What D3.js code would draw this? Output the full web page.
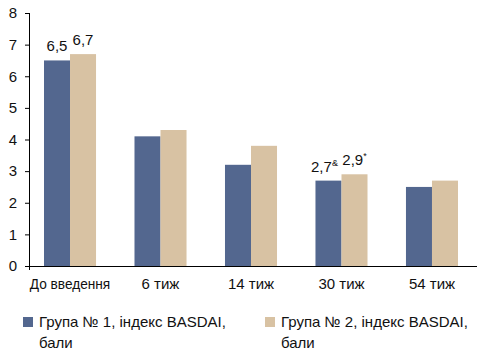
<!DOCTYPE html>
<html>
<head>
<meta charset="utf-8">
<script src="https://cdn.jsdelivr.net/npm/d3@7"></script>
<style>
  body { margin: 0; background: #fff; }
  text { font-family: "Liberation Sans", Arial, sans-serif; fill: #111; }
</style>
</head>
<body>
<svg id="chart" width="478" height="354"></svg>
<script>
var categories = ["До введення", "6 тиж", "14 тиж", "30 тиж", "54 тиж"];
var group1 = [6.5, 4.1, 3.2, 2.7, 2.5];
var group2 = [6.7, 4.3, 3.8, 2.9, 2.7];
var seriesNames = ["Група № 1, індекс BASDAI,", "Група № 2, індекс BASDAI,"];
var seriesColors = ["#53678f", "#d8c2a3"];
// value labels shown above bars: [category index, series index, text, superscript]
var valueLabels = [
    [0, 0, "6,5", ""],
    [0, 1, "6,7", ""],
    [3, 0, "2,7", "&"],
    [3, 1, "2,9", "*"]
];
var yTicks = [0, 1, 2, 3, 4, 5, 6, 7, 8];

var svg = d3.select("#chart");
var g = svg.append("g");

var x = d3.scaleBand()
    .domain(categories)
    .range([25, 477])
    .paddingInner(0.425)
    .paddingOuter(0.21);

var xs = d3.scaleBand()
    .domain([0, 1])
    .range([0, x.bandwidth()]);

var y = d3.scaleLinear()
    .domain([0, 8])
    .range([266, 13]);

// bars
var series = [group1, group2];
series.forEach(function (vals, s) {
    g.selectAll(".bar" + s)
        .data(vals)
        .enter().append("rect")
        .attr("x", function (d, i) { return x(categories[i]) + xs(s); })
        .attr("y", function (d) { return y(d); })
        .attr("width", xs.bandwidth())
        .attr("height", function (d) { return y(0) - y(d); })
        .attr("fill", seriesColors[s]);
});

// y axis
var yAxis = d3.axisLeft(y).tickValues(yTicks).tickSize(4).tickPadding(8);
var ya = g.append("g").attr("transform", "translate(29,0)").call(yAxis);
ya.select(".domain").attr("d", "M0.5,13V270");
ya.selectAll("text").style("font-size", "15px").attr("fill", "#111");

// x axis
var xa = g.append("g").attr("transform", "translate(0,266)");
xa.append("line").attr("x1", 29).attr("x2", 477).attr("y1", 0.5).attr("y2", 0.5)
    .attr("stroke", "#000");
xa.selectAll(".xl")
    .data(categories)
    .enter().append("text")
    .attr("x", function (d) { return x(d) + x.bandwidth() / 2; })
    .attr("y", 23)
    .attr("text-anchor", "middle")
    .style("font-size", "15px")
    .text(function (d) { return d; })
    .each(function (d, i) {
        // the first label is set in a narrower face in the original
        if (i === 0) {
            var w = this.getComputedTextLength();
            d3.select(this).attr("textLength", w * 0.91).attr("lengthAdjust", "spacingAndGlyphs");
        }
    });

// value labels
valueLabels.forEach(function (l) {
    var v = series[l[1]][l[0]];
    var cx = x(categories[l[0]]) + xs(l[1]) + xs.bandwidth() / 2;
    var t = g.append("text")
        .attr("x", l[3] && l[1] === 0 ? cx - 4 : cx)
        .attr("y", y(v) - 9)
        .attr("text-anchor", "middle")
        .style("font-size", "15px")
        .text(l[2]);
    if (l[3]) {
        t.append("tspan").attr("dy", -6).style("font-size", "9px").text(l[3]);
    }
});

// legend
var legX = [23, 265];
seriesNames.forEach(function (name, s) {
    var lg = g.append("g").attr("transform", "translate(" + legX[s] + ",317)");
    lg.append("rect").attr("x", 0).attr("y", 0).attr("width", 10).attr("height", 10)
        .attr("fill", seriesColors[s]);
    lg.append("text").attr("x", 16).attr("y", 10).style("font-size", "15px").text(name);
    lg.append("text").attr("x", 16).attr("y", 31).style("font-size", "15px").text("бали");
});
</script>
</body>
</html>
